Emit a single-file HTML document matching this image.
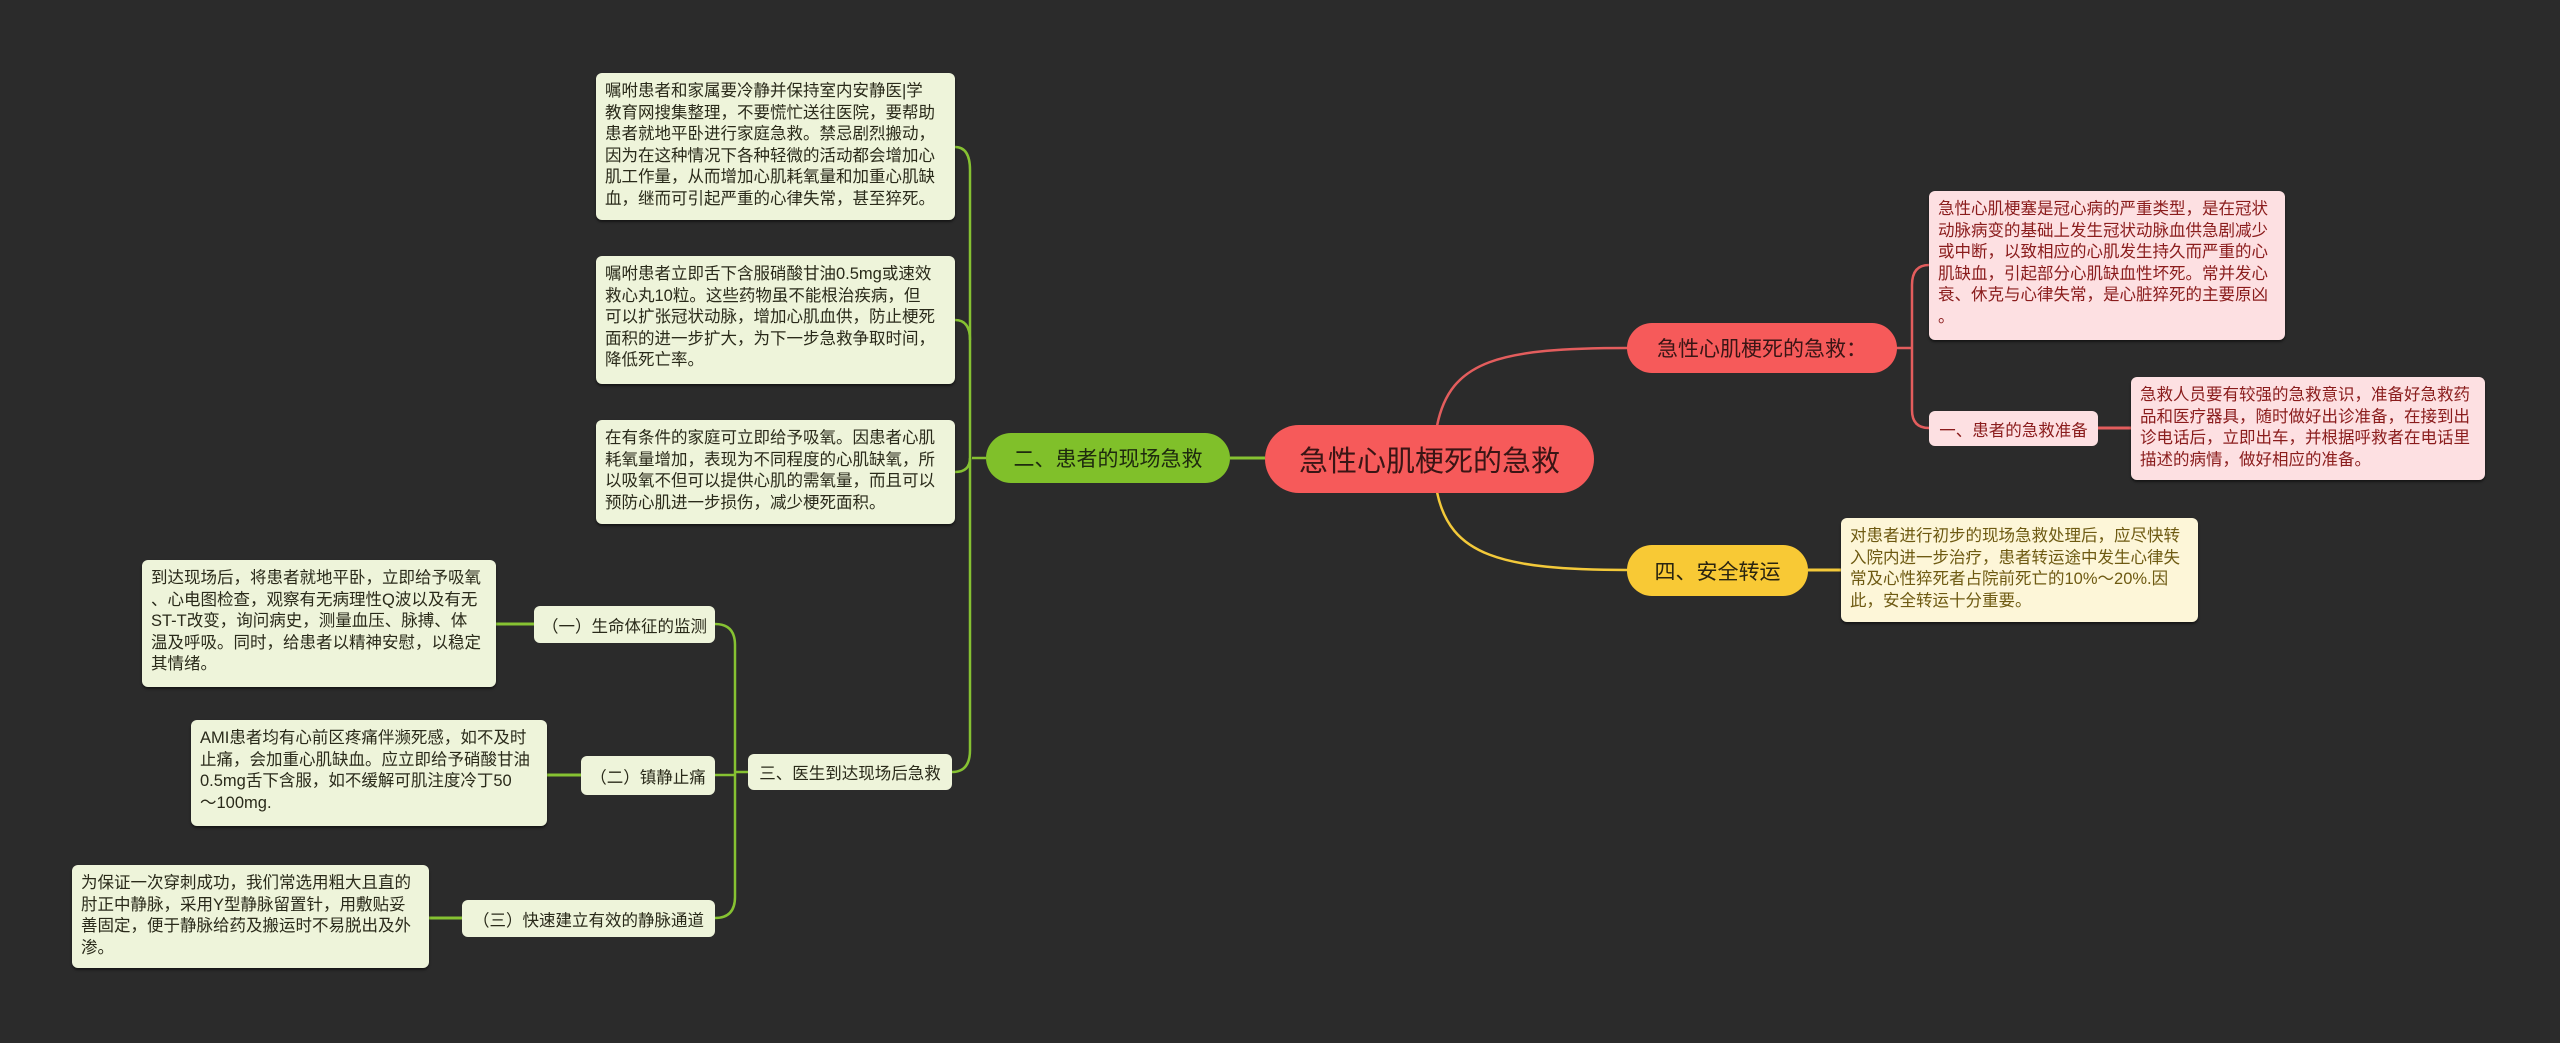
<!DOCTYPE html>
<html><head><meta charset="utf-8">
<style>
html,body{margin:0;padding:0;}
body{width:2560px;height:1043px;background:#2b2b2b;position:relative;overflow:hidden;font-family:"Liberation Sans","Noto Sans CJK SC",sans-serif;}
.n{position:absolute;box-sizing:border-box;display:flex;align-items:center;justify-content:center;white-space:nowrap;}
.b{position:absolute;box-sizing:border-box;font-size:16.5px;line-height:21.5px;padding:8px 9px;border-radius:6px;white-space:nowrap;}
.g{background:#eef4da;color:#2a2a1a;box-shadow:0 2px 2px rgba(0,0,0,.5);}
.p{background:#fde0e2;color:#8a1c1c;box-shadow:0 2px 2px rgba(0,0,0,.5);}
.y{background:#fdf6d8;color:#6e5a12;box-shadow:0 2px 2px rgba(0,0,0,.5);}
svg{position:absolute;left:0;top:0;}
</style></head><body>
<svg width="2560" height="1043" fill="none" stroke-width="2.5">
<!-- root connectors -->
<path d="M1437 426 C1450 360 1500 348 1628 348" stroke="#e35d5d"/>
<path d="M1437 492 C1450 555 1500 570 1628 570" stroke="#f3c93a"/>
<path d="M1230 458 L1265 458" stroke="#86c232" stroke-width="3"/>
<!-- red branch -->
<path d="M1896 348 L1912 348" stroke="#e35d5d"/>
<path d="M1929 265 Q1912 265 1912 285 L1912 410 Q1912 428 1929 428" stroke="#e35d5d"/>
<path d="M2098 428 L2131 428" stroke="#e35d5d" stroke-width="3"/>
<!-- yellow -->
<path d="M1808 570 L1841 570" stroke="#f3c93a" stroke-width="3"/>
<!-- green main -->
<path d="M986 458 L972 458" stroke="#86c232"/>
<path d="M955 147 Q970 147 970 170 L970 750 Q970 772 952 772" stroke="#86c232"/>
<path d="M955 320 Q970 320 970 340" stroke="#86c232"/>
<path d="M955 472 Q970 472 970 458" stroke="#86c232"/>
<!-- 三 -->
<path d="M748 772 L735 772" stroke="#86c232"/>
<path d="M715 624 Q735 624 735 645 L735 897 Q735 918 715 918" stroke="#86c232"/>
<path d="M715 775 L735 775" stroke="#86c232"/>
<path d="M496 624 L534 624" stroke="#86c232" stroke-width="3"/>
<path d="M547 775 L581 775" stroke="#86c232" stroke-width="3"/>
<path d="M429 918 L462 918" stroke="#86c232" stroke-width="3"/>
</svg>

<div class="n" style="left:1265px;top:425px;width:329px;height:68px;background:#f65a5a;border-radius:34px;font-size:29px;color:#3a1515;">急性心肌梗死的急救</div>
<div class="n" style="left:1627px;top:323px;width:270px;height:50px;background:#f65a5a;border-radius:25px;font-size:21px;color:#3a1515;">急性心肌梗死的急救：</div>
<div class="n" style="left:1627px;top:545px;width:181px;height:51px;background:#f8c935;border-radius:25px;font-size:21px;color:#2a2410;">四、安全转运</div>
<div class="n" style="left:986px;top:433px;width:244px;height:50px;background:#80c02a;border-radius:25px;font-size:21px;color:#1e2a0e;">二、患者的现场急救</div>
<div class="n" style="left:1929px;top:411px;width:169px;height:35px;background:#fde0e2;border-radius:6px;font-size:16.5px;color:#8a1c1c;">一、患者的急救准备</div>
<div class="n" style="left:748px;top:754px;width:204px;height:36px;background:#eef4da;border-radius:6px;font-size:16.5px;color:#2a2a1a;">三、医生到达现场后急救</div>
<div class="n" style="left:534px;top:606px;width:181px;height:37px;background:#eef4da;border-radius:6px;font-size:16.5px;color:#2a2a1a;">（一）生命体征的监测</div>
<div class="n" style="left:581px;top:756px;width:134px;height:39px;background:#eef4da;border-radius:6px;font-size:16.5px;color:#2a2a1a;">（二）镇静止痛</div>
<div class="n" style="left:462px;top:900px;width:253px;height:37px;background:#eef4da;border-radius:6px;font-size:16.5px;color:#2a2a1a;">（三）快速建立有效的静脉通道</div>

<div class="b p" style="left:1929px;top:191px;width:356px;height:149px;">急性心肌梗塞是冠心病的严重类型，是在冠状<br>动脉病变的基础上发生冠状动脉血供急剧减少<br>或中断，以致相应的心肌发生持久而严重的心<br>肌缺血，引起部分心肌缺血性坏死。常并发心<br>衰、休克与心律失常，是心脏猝死的主要原凶<br>。</div>
<div class="b p" style="left:2131px;top:377px;width:354px;height:103px;">急救人员要有较强的急救意识，准备好急救药<br>品和医疗器具，随时做好出诊准备，在接到出<br>诊电话后，立即出车，并根据呼救者在电话里<br>描述的病情，做好相应的准备。</div>
<div class="b y" style="left:1841px;top:518px;width:357px;height:104px;">对患者进行初步的现场急救处理后，应尽快转<br>入院内进一步治疗，患者转运途中发生心律失<br>常及心性猝死者占院前死亡的10%～20%.因<br>此，安全转运十分重要。</div>
<div class="b g" style="left:596px;top:73px;width:359px;height:147px;">嘱咐患者和家属要冷静并保持室内安静医|学<br>教育网搜集整理，不要慌忙送往医院，要帮助<br>患者就地平卧进行家庭急救。禁忌剧烈搬动，<br>因为在这种情况下各种轻微的活动都会增加心<br>肌工作量，从而增加心肌耗氧量和加重心肌缺<br>血，继而可引起严重的心律失常，甚至猝死。</div>
<div class="b g" style="left:596px;top:256px;width:359px;height:128px;">嘱咐患者立即舌下含服硝酸甘油0.5mg或速效<br>救心丸10粒。这些药物虽不能根治疾病，但<br>可以扩张冠状动脉，增加心肌血供，防止梗死<br>面积的进一步扩大，为下一步急救争取时间，<br>降低死亡率。</div>
<div class="b g" style="left:596px;top:420px;width:359px;height:104px;">在有条件的家庭可立即给予吸氧。因患者心肌<br>耗氧量增加，表现为不同程度的心肌缺氧，所<br>以吸氧不但可以提供心肌的需氧量，而且可以<br>预防心肌进一步损伤，减少梗死面积。</div>
<div class="b g" style="left:142px;top:560px;width:354px;height:127px;">到达现场后，将患者就地平卧，立即给予吸氧<br>、心电图检查，观察有无病理性Q波以及有无<br>ST-T改变，询问病史，测量血压、脉搏、体<br>温及呼吸。同时，给患者以精神安慰，以稳定<br>其情绪。</div>
<div class="b g" style="left:191px;top:720px;width:356px;height:106px;">AMI患者均有心前区疼痛伴濒死感，如不及时<br>止痛，会加重心肌缺血。应立即给予硝酸甘油<br>0.5mg舌下含服，如不缓解可肌注度冷丁50<br>～100mg.</div>
<div class="b g" style="left:72px;top:865px;width:357px;height:103px;">为保证一次穿刺成功，我们常选用粗大且直的<br>肘正中静脉，采用Y型静脉留置针，用敷贴妥<br>善固定，便于静脉给药及搬运时不易脱出及外<br>渗。</div>
</body></html>
